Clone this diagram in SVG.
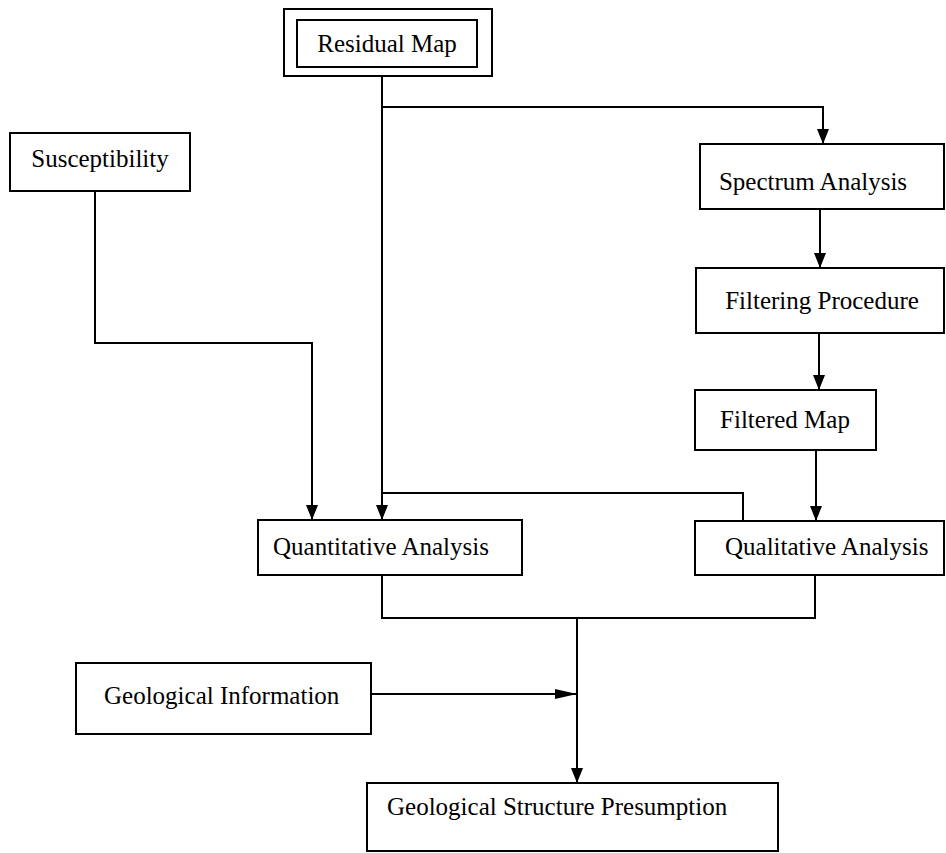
<svg xmlns="http://www.w3.org/2000/svg" width="946" height="853" viewBox="0 0 946 853">
  <style>
    .box { fill: #ffffff; stroke: #000000; stroke-width: 2; }
    .lbl { font-family: "Liberation Serif", "Times New Roman", serif; font-size: 25px; fill: #000000; }
    .wire { fill: none; stroke: #000000; stroke-width: 2; }
  </style>
  <defs>
    <marker id="arr" viewBox="0 0 15 12" refX="15" refY="6" markerWidth="15" markerHeight="12" markerUnits="userSpaceOnUse" orient="auto">
      <path d="M0,0 L15,6 L0,12 Z" fill="#000000"/>
    </marker>
    <marker id="arr-long" viewBox="0 0 22 10" refX="22" refY="5" markerWidth="22" markerHeight="10" markerUnits="userSpaceOnUse" orient="auto">
      <path d="M0,0 L22,5 L0,10 Z" fill="#000000"/>
    </marker>
  </defs>

  <rect width="946" height="853" fill="#ffffff"/>

  <!-- connectors -->
  <g id="connectors">
    <path class="wire" d="M382,76 V520" marker-end="url(#arr)"/>
    <path class="wire" d="M382,107 H823 V144" marker-end="url(#arr)"/>
    <path class="wire" d="M95,191 V343 H312 V520" marker-end="url(#arr)"/>
    <path class="wire" d="M820,209 V268" marker-end="url(#arr)"/>
    <path class="wire" d="M819,333 V390" marker-end="url(#arr)"/>
    <path class="wire" d="M816,450 V521" marker-end="url(#arr)"/>
    <path class="wire" d="M382,493 H743 V521"/>
    <path class="wire" d="M382,575 V618 H815 V575"/>
    <path class="wire" d="M577,618 V783" marker-end="url(#arr)"/>
    <path class="wire" d="M370,694 H577" marker-end="url(#arr-long)"/>
  </g>

  <!-- nodes -->
  <g id="residual-map">
    <rect class="box" x="284" y="9" width="208" height="67"/>
    <rect class="box" x="297" y="20" width="180" height="47"/>
    <text class="lbl" x="387" y="52" text-anchor="middle">Residual Map</text>
  </g>

  <g id="susceptibility">
    <rect class="box" x="10" y="133" width="180" height="58"/>
    <text class="lbl" x="100" y="167" text-anchor="middle">Susceptibility</text>
  </g>

  <g id="spectrum-analysis">
    <rect class="box" x="700" y="144" width="244" height="65"/>
    <text class="lbl" x="813" y="190" text-anchor="middle">Spectrum Analysis</text>
  </g>

  <g id="filtering-procedure">
    <rect class="box" x="696" y="268" width="248" height="65"/>
    <text class="lbl" x="822" y="309" text-anchor="middle">Filtering Procedure</text>
  </g>

  <g id="filtered-map">
    <rect class="box" x="695" y="390" width="181" height="60"/>
    <text class="lbl" x="785" y="428" text-anchor="middle">Filtered Map</text>
  </g>

  <g id="quantitative-analysis">
    <rect class="box" x="258" y="520" width="264" height="55"/>
    <text class="lbl" x="273" y="555">Quantitative Analysis</text>
  </g>

  <g id="qualitative-analysis">
    <rect class="box" x="695" y="521" width="249" height="54"/>
    <text class="lbl" x="725" y="555">Qualitative Analysis</text>
  </g>

  <g id="geological-information">
    <rect class="box" x="76" y="663" width="295" height="71"/>
    <text class="lbl" x="104" y="704">Geological Information</text>
  </g>

  <g id="geological-structure-presumption">
    <rect class="box" x="367" y="783" width="411" height="68"/>
    <text class="lbl" x="387" y="815">Geological Structure Presumption</text>
  </g>
</svg>
